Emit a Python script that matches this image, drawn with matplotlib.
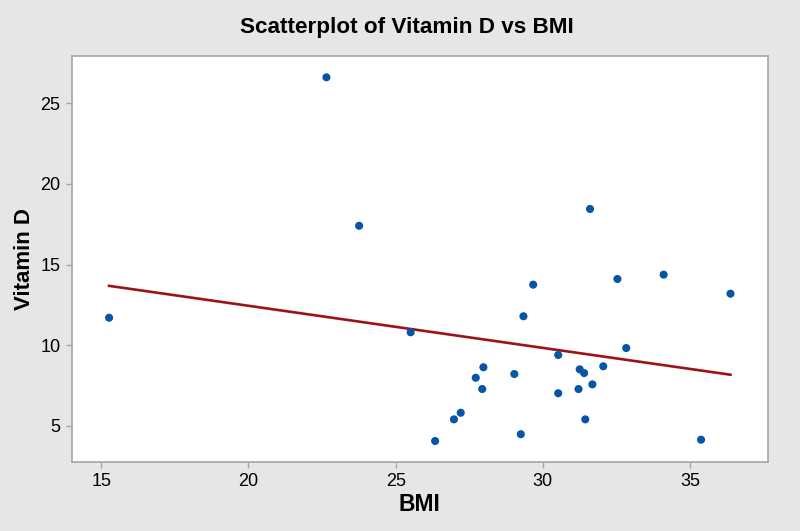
import matplotlib.pyplot as plt
import numpy as np

# values
bmi = [
    31.60, 29.67, 32.53, 34.10, 36.37, 29.34, 32.83, 30.52, 27.98, 27.72,
    29.03, 27.94, 31.25, 31.40, 32.05, 31.68, 31.21, 30.52, 27.21, 26.98,
    31.44, 29.25, 35.37, 22.65, 23.76, 15.27, 25.51, 26.34,
]
vitamin_d = [
    18.45, 13.76, 14.11, 14.38, 13.20, 11.80, 9.83, 9.40, 8.64, 7.99,
    8.22, 7.29, 8.51, 8.28, 8.70, 7.58, 7.29, 7.03, 5.82, 5.41,
    5.41, 4.49, 4.15, 26.61, 17.41, 11.71, 10.81, 4.07,
]
x_ticks = [15, 20, 25, 30, 35]
y_ticks = [5, 10, 15, 20, 25]

plt.rcParams["font.family"] = ["Liberation Sans", "DejaVu Sans"]

bg = "#E6E6E6"
spine = "#A6A6A6"

fig = plt.figure(figsize=(8.0, 5.31), dpi=100, facecolor=bg)
ax = fig.add_axes([0.0896, 0.1294, 0.8699, 0.7657])
ax.set_facecolor("white")

x = np.array(bmi)
y = np.array(vitamin_d)
slope, intercept = np.polyfit(x, y, 1)
xs = np.array([x.min(), x.max()])
ax.plot(xs, slope * xs + intercept, color="#9E1116", linewidth=1.9, zorder=2)
ax.scatter(x, y, s=34, color="#0755A4", edgecolors="none", zorder=3)

ax.set_xlim(14.0, 37.63)
ax.set_ylim(2.75, 27.95)
ax.set_xticks(x_ticks)
ax.set_yticks(y_ticks)
ax.tick_params(axis="both", direction="out", length=4, width=1, color=spine,
               labelsize=13, labelcolor="black", pad=4)

for s in ax.spines.values():
    s.set_color(spine)
    s.set_linewidth(1.2)

ax.set_xlabel("BMI", fontsize=16.5, fontweight="bold", labelpad=2)
ax.set_ylabel("Vitamin D", fontsize=16, fontweight="bold", labelpad=4)
fig.text(0.508, 0.949, "Scatterplot of Vitamin D vs BMI", ha="center", va="center",
         fontsize=16.2, fontweight="bold")

fig.savefig("out.png", dpi=100, facecolor=bg)
